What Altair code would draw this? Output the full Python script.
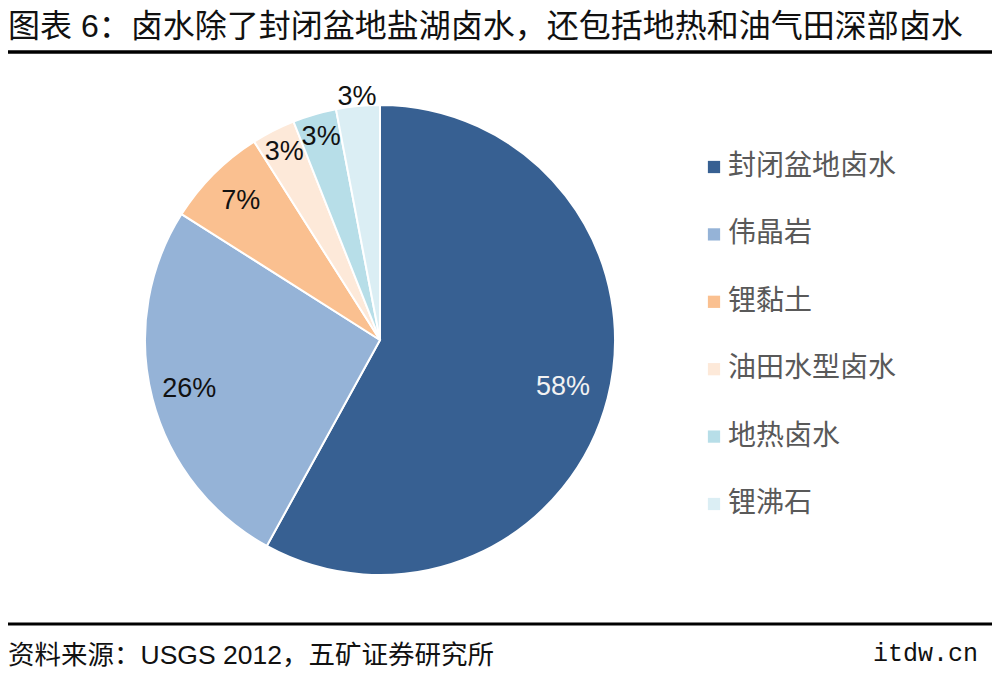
import altair as alt
import pandas as pd

categories = ["封闭盆地卤水", "伟晶岩", "锂黏土", "油田水型卤水", "地热卤水", "锂沸石"]
values = [58, 26, 7, 3, 3, 3]
colors = ["#376092", "#95B3D7", "#FAC090", "#FDE9D9", "#B7DEE8", "#DBEEF4"]

title_text = "图表 6：卤水除了封闭盆地盐湖卤水，还包括地热和油气田深部卤水"
source_text = "资料来源：USGS 2012，五矿证券研究所"
watermark = "itdw.cn"

df = pd.DataFrame({"cat": categories, "value": values, "idx": list(range(len(categories)))})

CJK = "Liberation Sans, Arial, Noto Sans CJK SC"
CX, CY, R = 372, 332, 235

base = alt.Chart(df).encode(
    theta=alt.Theta("value:Q", stack=True),
    order=alt.Order("idx:Q"),
    x=alt.value(CX),
    y=alt.value(CY),
)

pie = base.mark_arc(outerRadius=R, stroke="white", strokeWidth=2).encode(
    color=alt.Color(
        "cat:N",
        scale=alt.Scale(domain=categories, range=colors),
        sort=categories,
        legend=alt.Legend(
            title=None,
            orient="none",
            legendX=692,
            legendY=145,
            symbolType="square",
            symbolSize=150,
            symbolStrokeWidth=0,
            labelFontSize=28,
            labelFont=CJK,
            labelColor="#595959",
            labelOffset=0,
            rowPadding=39.4,
            padding=0,
            labelLimit=400,
        ),
    )
)


def label_layer(cats, radius, color):
    cond = " || ".join([f"datum.cat == '{c}'" for c in cats])
    return (
        base.transform_calculate(lab=f"({cond}) ? datum.value + '%' : ''")
        .mark_text(radius=radius, fontSize=27, font="Liberation Sans, Arial", color=color)
        .encode(text="lab:N")
    )


lab1 = label_layer(["封闭盆地卤水"], 189, "#F2F2F2")
lab2 = label_layer(["伟晶岩", "锂黏土"], 197, "#111111")
lab3 = label_layer(["油田水型卤水", "地热卤水"], 211, "#111111")
lab4 = label_layer(["锂沸石"], 244, "#111111")

one = pd.DataFrame({"k": [0]})

title = alt.Chart(one).mark_text(
    text=title_text, fontSize=32, font=CJK, color="#111111", align="left", baseline="middle"
).encode(x=alt.value(0), y=alt.value(19))

rule_top = alt.Chart(one).mark_rule(color="#000000", strokeWidth=3.5).encode(
    x=alt.value(0), x2=alt.value(984), y=alt.value(44)
)
rule_bot = alt.Chart(one).mark_rule(color="#000000", strokeWidth=3).encode(
    x=alt.value(0), x2=alt.value(984), y=alt.value(616)
)

source = alt.Chart(one).mark_text(
    text=source_text, fontSize=26.5, font=CJK, color="#111111", align="left", baseline="middle"
).encode(x=alt.value(0), y=alt.value(648))

wm = alt.Chart(one).mark_text(
    text=watermark, fontSize=25, font="Liberation Mono, DejaVu Sans Mono", color="#111111",
    align="left", baseline="middle"
).encode(x=alt.value(865), y=alt.value(645))

chart = alt.layer(pie, lab1, lab2, lab3, lab4, title, rule_top, rule_bot, source, wm).properties(
    width=984, height=661, autosize=alt.AutoSizeParams(type="none"), padding=0, background="white"
).configure_view(stroke=None)

chart.save("out.html", embed_options={"renderer": "svg", "actions": False})
